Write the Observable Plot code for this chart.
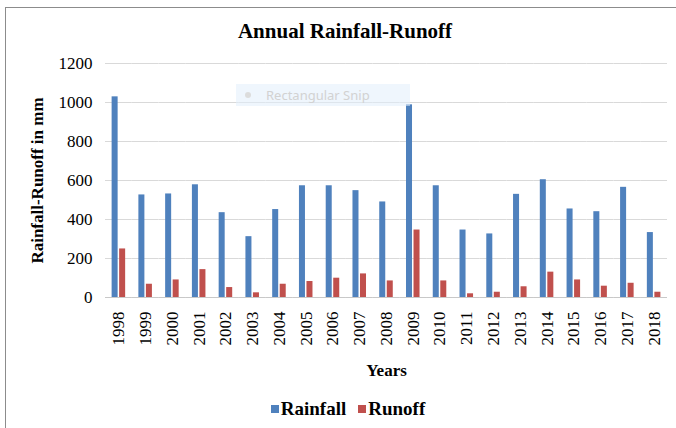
<!DOCTYPE html>
<html>
<head>
<meta charset="utf-8">
<script src="https://cdn.jsdelivr.net/npm/d3@7"></script>
<script src="https://cdn.jsdelivr.net/npm/@observablehq/plot@0.6"></script>
<style>
  html, body { margin: 0; padding: 0; background: #fff; }
  #page { position: relative; width: 676px; height: 428px; overflow: hidden; background: #fff;
          font-family: "Liberation Serif", "Times New Roman", serif; color: #000; }
  #border { position: absolute; left: 5px; top: 7px; width: 800px; height: 600px;
            border-left: 1.5px solid #8c8c8c; border-top: 1.5px solid #8c8c8c; }
  #title { position: absolute; left: 7px; top: 19px; width: 676px; text-align: center;
           font-weight: bold; font-size: 21px; }
  #chart { position: absolute; left: 0; top: 40px; }
  #snip { position: absolute; left: 236px; top: 84px; width: 174px; height: 22px;
          background: rgba(226, 238, 252, 0.55); color: #d2d2d2;
          font-family: "Noto Sans", sans-serif; font-size: 13px; line-height: 22px; }
  #snip .dot { position: absolute; left: 9px; top: 8px; width: 6px; height: 6px; border-radius: 3px; background: #dcdcdc; }
  #snip .txt { position: absolute; left: 30px; top: 0; }
  #legend { position: absolute; left: 0; top: 398px; width: 676px; display: flex; justify-content: center;
            font-weight: bold; font-size: 19px; padding-left: 20px; box-sizing: border-box; }
  #legend .item { display: flex; align-items: center; margin: 0 6px; }
  #legend .sw { width: 8px; height: 8px; margin-right: 2px; }
</style>
</head>
<body>
<div id="page">
  <div id="border"></div>
  <div id="title">Annual Rainfall-Runoff</div>
  <div id="chart"></div>
  <div id="snip"><span class="dot"></span><span class="txt">Rectangular Snip</span></div>
  <div id="legend"></div>
</div>
<script>
// Annual totals (mm)
const years = ["1998","1999","2000","2001","2002","2003","2004","2005","2006","2007","2008",
               "2009","2010","2011","2012","2013","2014","2015","2016","2017","2018"];
const rainfall = [1029, 526, 531, 578, 435, 312, 451, 573, 573, 548, 490,
                  988, 573, 346, 326, 529, 604, 454, 440, 565, 333];
const runoff = [249, 68, 90, 143, 51, 24, 68, 82, 99, 121, 85,
                346, 85, 19, 27, 55, 130, 90, 58, 73, 27];
const seriesNames = ["Rainfall", "Runoff"];
const seriesColors = ["#4f81bd", "#c0504d"];
const yTicks = [0, 200, 400, 600, 800, 1000, 1200];

// long table: one row per year and series
const table = years.flatMap((year, i) => [
  {year, series: "Rainfall", value: rainfall[i]},
  {year, series: "Runoff", value: runoff[i]}
]);

const chart = Plot.plot({
  width: 676,
  height: 345,
  marginTop: 23,
  marginBottom: 88,
  marginLeft: 105,
  marginRight: 9,
  style: {
    fontFamily: "'Liberation Serif', 'Times New Roman', serif",
    fontSize: "17px",
    color: "#000",
    background: "transparent",
    overflow: "visible"
  },
  fx: {domain: years, padding: 0, round: false, label: null},
  x: {domain: seriesNames, axis: null, paddingInner: 0.2, paddingOuter: 0.88, round: false},
  y: {domain: [0, 1200], label: null},
  color: {domain: seriesNames, range: seriesColors},
  marks: [
    Plot.gridY(yTicks, {stroke: "#d9d9d9", strokeOpacity: 1, strokeWidth: 1}),
    Plot.ruleY([0], {stroke: "#c8c8c8", strokeWidth: 1}),
    Plot.barY(table, {fx: "year", x: "series", y: "value", fill: "series"}),
    Plot.axisY(yTicks, {
      tickSize: 0, tickPadding: 13, tickFormat: d3.format("d"),
      label: "Rainfall-Runoff in mm", labelAnchor: "center", labelArrow: "none", labelOffset: 75
    }),
    Plot.axisFx({
      anchor: "bottom", tickSize: 0, tickPadding: 14, tickRotate: -90,
      label: "Years", labelAnchor: "center", labelArrow: "none", labelOffset: 78
    })
  ]
});
document.getElementById("chart").appendChild(chart);

// bold axis titles
d3.select(chart).selectAll('[aria-label="y-axis label"], [aria-label="fx-axis label"]')
  .attr("font-weight", "bold");

// legend
const legend = d3.select("#legend");
seriesNames.forEach((name, i) => {
  const item = legend.append("div").attr("class", "item");
  item.append("span").attr("class", "sw").style("background", seriesColors[i]);
  item.append("span").text(name);
});
</script>
</body>
</html>
